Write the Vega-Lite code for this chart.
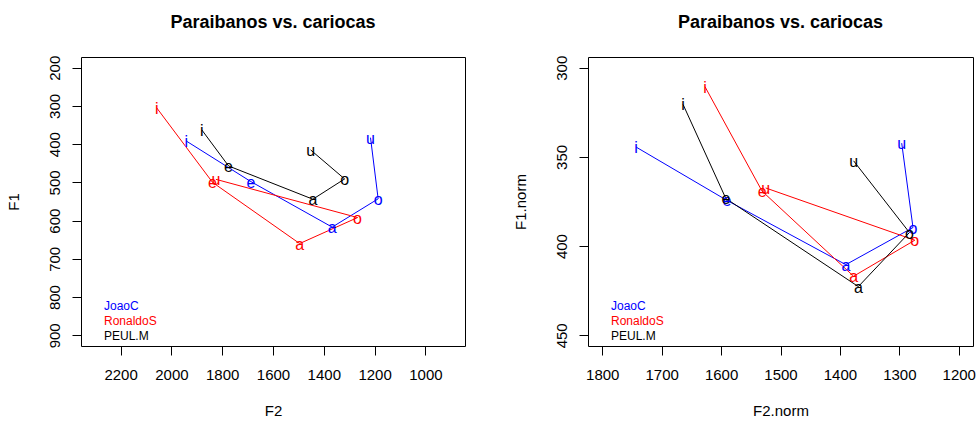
{
  "$schema": "https://vega.github.io/schema/vega-lite/v6.json",
  "padding": {"left": 5, "top": 13, "right": 3, "bottom": 3},
  "background": "white",
  "config": {
    "font": "Liberation Sans",
    "view": {"stroke": "#000", "strokeWidth": 1},
    "axis": {"domain": false, "grid": false, "tickColor": "#000", "tickSize": 9, "labelFont": "Liberation Sans", "labelFontSize": 15, "labelColor": "#000", "titleFont": "Liberation Sans", "titleFontSize": 15, "titleFontWeight": "normal", "titleColor": "#000", "format": "d"},
    "axisX": {"labelPadding": 12, "titlePadding": 21},
    "axisY": {"labelAngle": -90, "labelAlign": "center", "labelBaseline": "bottom", "labelPadding": 10, "titlePadding": 26},
    "title": {"font": "Liberation Sans", "fontSize": 18, "fontWeight": "bold", "color": "#000", "frame": "group", "anchor": "middle", "offset": 23},
    "legend": {"orient": "bottom-left", "offset": 4, "title": null, "symbolSize": 0, "symbolStrokeWidth": 0, "symbolOpacity": 0, "labelOffset": 7, "labelFont": "Liberation Sans", "labelFontSize": 12, "rowPadding": 3, "padding": 0,
      "labelColor": {"expr": "datum.value == 'JoaoC' ? '#0000ff' : datum.value == 'RonaldoS' ? '#ff0000' : '#000000'"}}
  },
  "data": {"values": [
    {"speaker": "JoaoC", "vowel": "i", "ord": 1, "F2": 1941, "F1": 392, "F2n": 1743, "F1n": 344.5},
    {"speaker": "JoaoC", "vowel": "e", "ord": 2, "F2": 1687, "F1": 498, "F2n": 1590, "F1n": 374.4},
    {"speaker": "JoaoC", "vowel": "a", "ord": 3, "F2": 1367, "F1": 617, "F2n": 1390, "F1n": 410.4},
    {"speaker": "JoaoC", "vowel": "o", "ord": 4, "F2": 1186, "F1": 543, "F2n": 1277, "F1n": 389.6},
    {"speaker": "JoaoC", "vowel": "u", "ord": 5, "F2": 1216, "F1": 383, "F2n": 1296, "F1n": 342.3},
    {"speaker": "RonaldoS", "vowel": "i", "ord": 1, "F2": 2058, "F1": 305, "F2n": 1627, "F1n": 310.7},
    {"speaker": "RonaldoS", "vowel": "e", "ord": 2, "F2": 1838, "F1": 500, "F2n": 1531, "F1n": 369.2},
    {"speaker": "RonaldoS", "vowel": "a", "ord": 3, "F2": 1495, "F1": 660, "F2n": 1377, "F1n": 416.9},
    {"speaker": "RonaldoS", "vowel": "o", "ord": 4, "F2": 1267, "F1": 592, "F2n": 1274, "F1n": 396.7},
    {"speaker": "RonaldoS", "vowel": "u", "ord": 5, "F2": 1825, "F1": 492, "F2n": 1525, "F1n": 367.4},
    {"speaker": "PEUL.M", "vowel": "i", "ord": 1, "F2": 1880, "F1": 363, "F2n": 1664, "F1n": 320.6},
    {"speaker": "PEUL.M", "vowel": "e", "ord": 2, "F2": 1775, "F1": 457, "F2n": 1592, "F1n": 373.3},
    {"speaker": "PEUL.M", "vowel": "a", "ord": 3, "F2": 1443, "F1": 544, "F2n": 1369, "F1n": 422.7},
    {"speaker": "PEUL.M", "vowel": "o", "ord": 4, "F2": 1318, "F1": 491, "F2n": 1283, "F1n": 392.4},
    {"speaker": "PEUL.M", "vowel": "u", "ord": 5, "F2": 1452, "F1": 415, "F2n": 1377, "F1n": 352.2}
  ]},
  "spacing": 123,
  "bounds": "flush",
  "resolve": {"legend": {"color": "independent"}},
  "hconcat": [
    {
      "width": 384, "height": 289,
      "title": "Paraibanos vs. cariocas",
      "encoding": {
        "x": {"field": "F2", "type": "quantitative", "title": "F2", "scale": {"domain": [844, 2356], "reverse": true, "nice": false, "zero": false}, "axis": {"values": [1000, 1200, 1400, 1600, 1800, 2000, 2200]}},
        "y": {"field": "F1", "type": "quantitative", "title": "F1", "scale": {"domain": [172, 928], "reverse": true, "nice": false, "zero": false}, "axis": {"values": [200, 300, 400, 500, 600, 700, 800, 900]}},
        "color": {"field": "speaker", "type": "nominal", "scale": {"domain": ["JoaoC", "RonaldoS", "PEUL.M"], "range": ["#0000ff", "#ff0000", "#000000"]}}
      },
      "layer": [
        {"mark": {"type": "line", "strokeWidth": 1}, "encoding": {"order": {"field": "ord", "type": "quantitative"}}},
        {"mark": {"type": "text", "fontSize": 16, "font": "Liberation Sans", "baseline": "middle", "align": "center", "dy": 1}, "encoding": {"text": {"field": "vowel"}}}
      ]
    },
    {
      "width": 385, "height": 289,
      "title": "Paraibanos vs. cariocas",
      "encoding": {
        "x": {"field": "F2n", "type": "quantitative", "title": "F2.norm", "scale": {"domain": [1176, 1824], "reverse": true, "nice": false, "zero": false}, "axis": {"values": [1200, 1300, 1400, 1500, 1600, 1700, 1800]}},
        "y": {"field": "F1n", "type": "quantitative", "title": "F1.norm", "scale": {"domain": [294, 456], "reverse": true, "nice": false, "zero": false}, "axis": {"values": [300, 350, 400, 450]}},
        "color": {"field": "speaker", "type": "nominal", "scale": {"domain": ["JoaoC", "RonaldoS", "PEUL.M"], "range": ["#0000ff", "#ff0000", "#000000"]}}
      },
      "layer": [
        {"mark": {"type": "line", "strokeWidth": 1}, "encoding": {"order": {"field": "ord", "type": "quantitative"}}},
        {"mark": {"type": "text", "fontSize": 16, "font": "Liberation Sans", "baseline": "middle", "align": "center", "dy": 1}, "encoding": {"text": {"field": "vowel"}}}
      ]
    }
  ]
}
